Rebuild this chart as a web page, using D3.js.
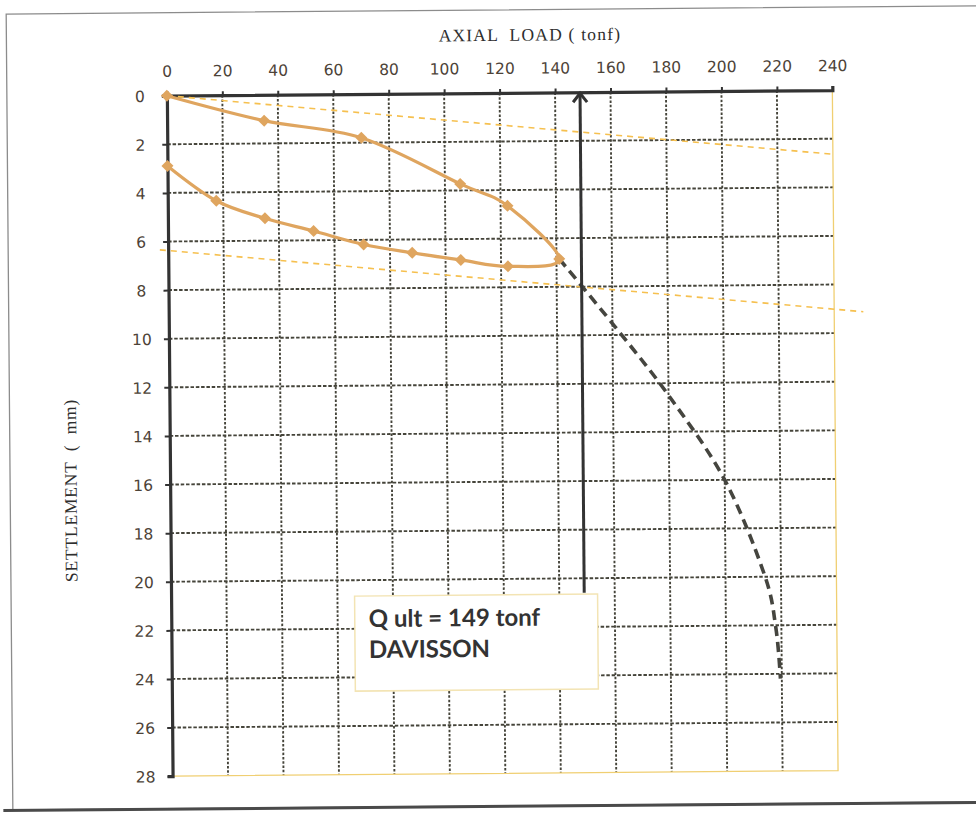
<!DOCTYPE html>
<html>
<head>
<meta charset="utf-8">
<script src="https://cdn.jsdelivr.net/npm/d3@7"></script>
<style>
  html, body { margin: 0; padding: 0; background: #fff; }
  svg { display: block; }
</style>
</head>
<body>
<svg id="chart" width="976" height="817"></svg>
<script>
// Axis ticks
const loadTicks = [0, 20, 40, 60, 80, 100, 120, 140, 160, 180, 200, 220, 240];
const settlementTicks = [0, 2, 4, 6, 8, 10, 12, 14, 16, 18, 20, 22, 24, 26, 28];

// Load test: loading branch (tonf, mm)
const loadingLoad = [0, 35, 70, 105.5, 122.5, 141];
const loadingSettlement = [0, 1.06, 1.8, 3.73, 4.65, 6.85];

// Unloading branch (continues from the peak load)
const unloadingLoad = [122.5, 105.5, 88, 70.5, 52.5, 35, 17.5, 0];
const unloadingSettlement = [7.14, 6.86, 6.55, 6.19, 5.62, 5.08, 4.34, 2.89];

// Extrapolated load-settlement curve beyond the test load
const extrapLoad = [141, 160.5, 180, 200, 214, 218, 219.5];
const extrapSettlement = [6.85, 9.6, 12.5, 16.0, 19.9, 22.1, 24.2];

// Davisson construction: elastic compression line and offset line
const elasticLoad = [0, 240];
const elasticSettlement = [0, 2.64];
const offsetLoad = [-3, 250.5];
const offsetSettlement = [6.34, 9.13];

// Ultimate capacity
const qult = 149;
const qultArrowSettlement = [20.6, 0];

const W = 976, H = 817;
const svg = d3.select('#chart');
svg.append('rect').attr('width', W).attr('height', H).attr('fill', '#ffffff');

// whole sheet sits with a slight counter-clockwise tilt
const root = svg.append('g').attr('transform', 'rotate(-0.48 488 408)');

// sheet frame
root.append('rect')
  .attr('x', 9.5).attr('y', 10).attr('width', 1000).attr('height', 796)
  .attr('fill', 'none').attr('stroke', '#8c8c8c').attr('stroke-width', 1.3);
root.append('line')
  .attr('x1', 0).attr('x2', 1010).attr('y1', 806.5).attr('y2', 806.5)
  .attr('stroke', '#4a4a4a').attr('stroke-width', 3);

const x = d3.scaleLinear().domain([0, 240]).range([169.5, 835]);
const y = d3.scaleLinear().domain([0, 28]).range([93, 773.5]);

const gridColor = '#45443a';

// grid
const grid = root.append('g');
grid.selectAll('line.v')
  .data(loadTicks.filter(t => t > 0 && t < 240))
  .join('line')
  .attr('x1', d => x(d)).attr('x2', d => x(d))
  .attr('y1', y(0)).attr('y2', y(28))
  .attr('stroke', gridColor).attr('stroke-width', 1.9)
  .attr('stroke-dasharray', '2.5,1.8');
grid.selectAll('line.h')
  .data(settlementTicks.filter(t => t > 0 && t < 28))
  .join('line')
  .attr('x1', x(0)).attr('x2', x(240))
  .attr('y1', d => y(d)).attr('y2', d => y(d))
  .attr('stroke', gridColor).attr('stroke-width', 1.9)
  .attr('stroke-dasharray', '3.5,1.8');

// plot area right and bottom edges
root.append('path')
  .attr('d', `M${x(240)},${y(0)}V${y(28)}H${x(0)}`)
  .attr('fill', 'none').attr('stroke', '#f0cf72').attr('stroke-width', 1.3);

// axes
const tickFont = '"DejaVu Sans", sans-serif';
const tickColor = '#4d4338';

const topAxis = root.append('g')
  .attr('transform', `translate(0,${y(0)})`)
  .call(d3.axisTop(x).tickValues(loadTicks).tickSizeInner(4).tickSizeOuter(4).tickPadding(15));
const leftAxis = root.append('g')
  .attr('transform', `translate(${x(0)},0)`)
  .call(d3.axisLeft(y).tickValues(settlementTicks).tickSizeInner(5).tickSizeOuter(5));

[topAxis, leftAxis].forEach(a => {
  a.select('.domain').attr('stroke', '#333').attr('stroke-width', 3.2);
  a.selectAll('.tick line').attr('stroke', '#333').attr('stroke-width', 2);
  a.selectAll('.tick text')
    .attr('fill', tickColor)
    .style('font-family', tickFont)
    .style('font-size', '15.5px');
});
leftAxis.selectAll('.tick text')
  .attr('text-anchor', 'middle')
  .attr('x', -27)
  .attr('dy', '0.36em');

// axis titles
root.append('text')
  .attr('x', 533).attr('y', 41)
  .attr('text-anchor', 'middle')
  .attr('fill', '#2e2e2e')
  .style('font-family', '"Liberation Serif", serif')
  .style('font-size', '17.5px')
  .style('letter-spacing', '1.2px')
  .style('white-space', 'pre')
  .text('AXIAL  LOAD ( tonf)');

root.append('text')
  .attr('transform', 'translate(76,487) rotate(-90)')
  .attr('text-anchor', 'middle')
  .attr('fill', '#2e2e2e')
  .style('font-family', '"Liberation Serif", serif')
  .style('font-size', '17.5px')
  .style('letter-spacing', '0.8px')
  .style('white-space', 'pre')
  .text('SETTLEMENT  (  mm)');

// Davisson lines
const dashedYellow = '#f6c04f';
[[elasticLoad, elasticSettlement], [offsetLoad, offsetSettlement]].forEach(([ls, ss]) => {
  root.append('line')
    .attr('x1', x(ls[0])).attr('y1', y(ss[0]))
    .attr('x2', x(ls[1])).attr('y2', y(ss[1]))
    .attr('stroke', dashedYellow).attr('stroke-width', 1.6)
    .attr('stroke-dasharray', '6,5');
});

// load-settlement curve
const curveLine = d3.line()
  .x(d => x(d[0])).y(d => y(d[1]))
  .curve(d3.curveCardinal.tension(0));

const loopPts = loadingLoad.map((l, i) => [l, loadingSettlement[i]])
  .concat(unloadingLoad.map((l, i) => [l, unloadingSettlement[i]]));

const orange = '#dfa55f';
root.append('path')
  .datum(loopPts)
  .attr('d', curveLine)
  .attr('fill', 'none').attr('stroke', orange).attr('stroke-width', 3.2);

const extrapPts = extrapLoad.map((l, i) => [l, extrapSettlement[i]]);
root.append('path')
  .datum(extrapPts)
  .attr('d', curveLine)
  .attr('fill', 'none').attr('stroke', '#45453f').attr('stroke-width', 3.6)
  .attr('stroke-dasharray', '10,6');

root.selectAll('path.marker')
  .data(loopPts)
  .join('path')
  .attr('class', 'marker')
  .attr('transform', d => `translate(${x(d[0])},${y(d[1])})`)
  .attr('d', 'M0,-6L6,0L0,6L-6,0Z')
  .attr('fill', orange);

// ultimate load arrow
const ax = x(qult);
root.append('line')
  .attr('x1', ax).attr('x2', ax)
  .attr('y1', y(qultArrowSettlement[0])).attr('y2', y(qultArrowSettlement[1]) + 1)
  .attr('stroke', '#333').attr('stroke-width', 3);
root.append('path')
  .attr('d', `M${ax - 7},${y(0) + 10}L${ax},${y(0) + 1}L${ax + 7},${y(0) + 10}`)
  .attr('fill', 'none').attr('stroke', '#333').attr('stroke-width', 3);

// annotation box
root.append('rect')
  .attr('x', 353).attr('y', 595).attr('width', 243).attr('height', 95)
  .attr('fill', '#fff').attr('stroke', '#f3e4b4').attr('stroke-width', 1.5);
const note = root.append('text')
  .attr('fill', '#333')
  .style('font-family', 'Lato, sans-serif')
  .style('font-weight', 700)
  .style('font-size', '24px');
note.append('tspan').attr('x', 367).attr('y', 626).text(`Q ult = ${qult} tonf`);
note.append('tspan').attr('x', 367).attr('y', 657).text('DAVISSON');
</script>
</body>
</html>
